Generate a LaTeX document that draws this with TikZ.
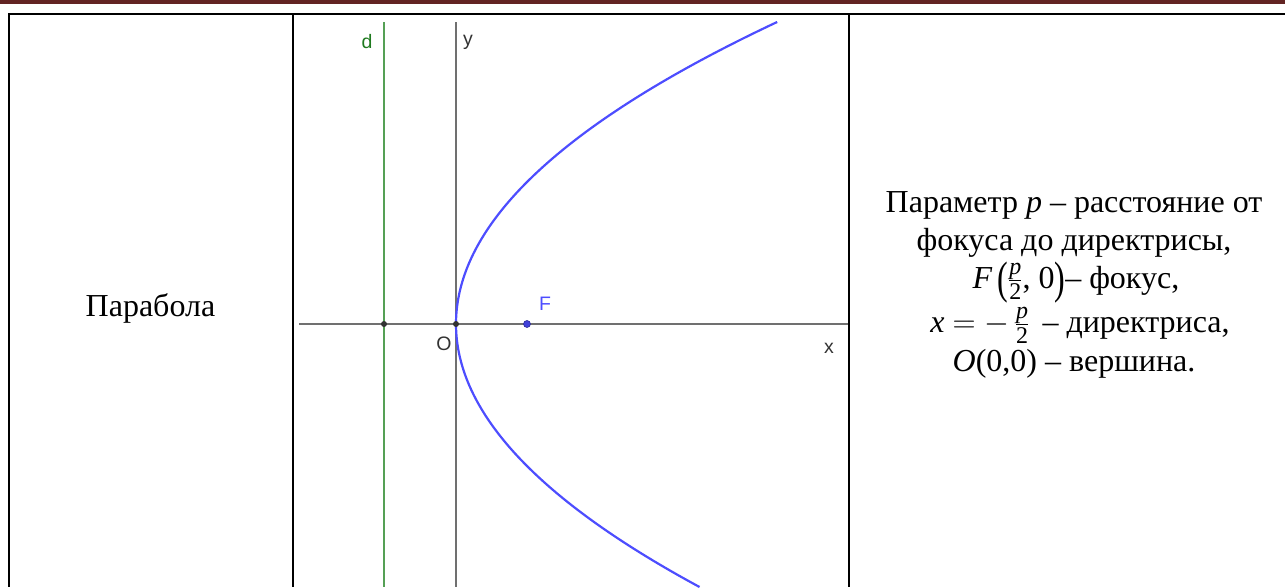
\RequirePackage{fix-cm}
\documentclass[tikz,border=0pt]{standalone}
\usepackage{graphicx}
\usepackage{fontspec}
\setmainfont{Liberation Serif}
\newfontfamily\ggb{Liberation Sans}
\definecolor{hdr}{HTML}{622423}
\definecolor{curvecol}{HTML}{4D4DFF}
\definecolor{dlinecol}{HTML}{55A055}
\definecolor{dlabelcol}{HTML}{1F7A1F}
\definecolor{axiscol}{HTML}{707070}
\definecolor{ptcol}{HTML}{333333}
\newcommand\fsm[1]{\mbox{\fontsize{24}{24}\selectfont #1}}
\newcommand\pfrac{$\frac{\fsm{\itshape p}}{\fsm{2}}$}
\newcommand\bigpar[1]{\raisebox{-5pt}{\scalebox{1}[1.42]{#1}}}
\tikzset{
  border/.style={black, line width=2.2pt},
  thinborder/.style={black, line width=1.2pt},
  axisline/.style={axiscol, line width=1.6pt},
  dirline/.style={dlinecol, line width=2.2pt},
  parab/.style={curvecol, line width=2.2pt},
  ptdot/.style={circle, fill=ptcol, inner sep=0pt, minimum size=6pt},
  fdot/.style={circle, fill=curvecol!85!black, draw=curvecol!60!black, line width=0.6pt, inner sep=0pt, minimum size=7pt},
  glabel/.style={font=\ggb\fontsize{19.5}{22}\selectfont, text=ptcol, inner sep=0pt},
  bigtext/.style={font=\fontsize{32}{38}\selectfont, inner sep=0pt, anchor=base},
  bodytext/.style={font=\fontsize{32}{38}\selectfont, inner sep=0pt, anchor=base},
}
\begin{document}
\begin{tikzpicture}[x=1pt,y=-1pt]
\useasboundingbox (0,0) rectangle (1285,587);
% header rule
\fill[hdr] (0,0) rectangle (1285,3.5);
% table
\coordinate (tl) at (8,14);
\coordinate (tr) at (1285,14);
\coordinate (lt) at (9,13);
\coordinate (bl) at (9,587);
\coordinate (c1t) at (293,14);
\coordinate (c1b) at (293,587);
\coordinate (c2t) at (849,14);
\coordinate (c2b) at (849,587);
\draw[border] (tl) -- (tr);
\draw[border] (lt) -- (bl);
\draw[border] (c1t) -- (c1b);
\draw[thinborder] (c2t) -- (c2b);
% graph
\coordinate (xa) at (299,324);
\coordinate (xb) at (848,324);
\coordinate (ya) at (456,22);
\coordinate (yb) at (456,587);
\coordinate (da) at (384,22);
\coordinate (db) at (384,587);
\draw[axisline] (xa) -- (xb);
\draw[axisline] (ya) -- (yb);
\draw[dirline] (da) -- (db);
\draw[parab] plot[domain=-30.2:26.3, samples=150, smooth] ({456+\x*\x/2.84}, {324+10*\x});
\node[ptdot] (D) at (384,324) {};
\node[ptdot] (O) at (456,324) {};
\node[fdot] (F) at (527,324) {};
\node[glabel, text=dlabelcol] (dl) at (367,42) {d};
\node[glabel] (yl) at (468,42) {y};
\node[glabel, text=curvecol] (Fl) at (545,304) {F};
\node[glabel] (Ol) at (444,344) {O};
\node[glabel] (xl) at (829,348) {x};
% texts
\node[bigtext] (name) at (150.5,316) {Парабола};
\node[bodytext] (t1) at (1074,212) {Параметр {\itshape p} – расстояние от};
\node[bodytext] (t2) at (1074,250) {фокуса до директрисы,};
\node[bodytext] (t3) at (1076,288) {{\itshape F}\,\bigpar{(}\pfrac, 0\bigpar{)}– фокус,};
\node[bodytext] (t4) at (1080,332) {{\itshape x} $=-\,$\pfrac\, – директриса,};
\node[bodytext] (t5) at (1074,371) {{\itshape O}(0,0) – вершина.};
\end{tikzpicture}
\end{document}
